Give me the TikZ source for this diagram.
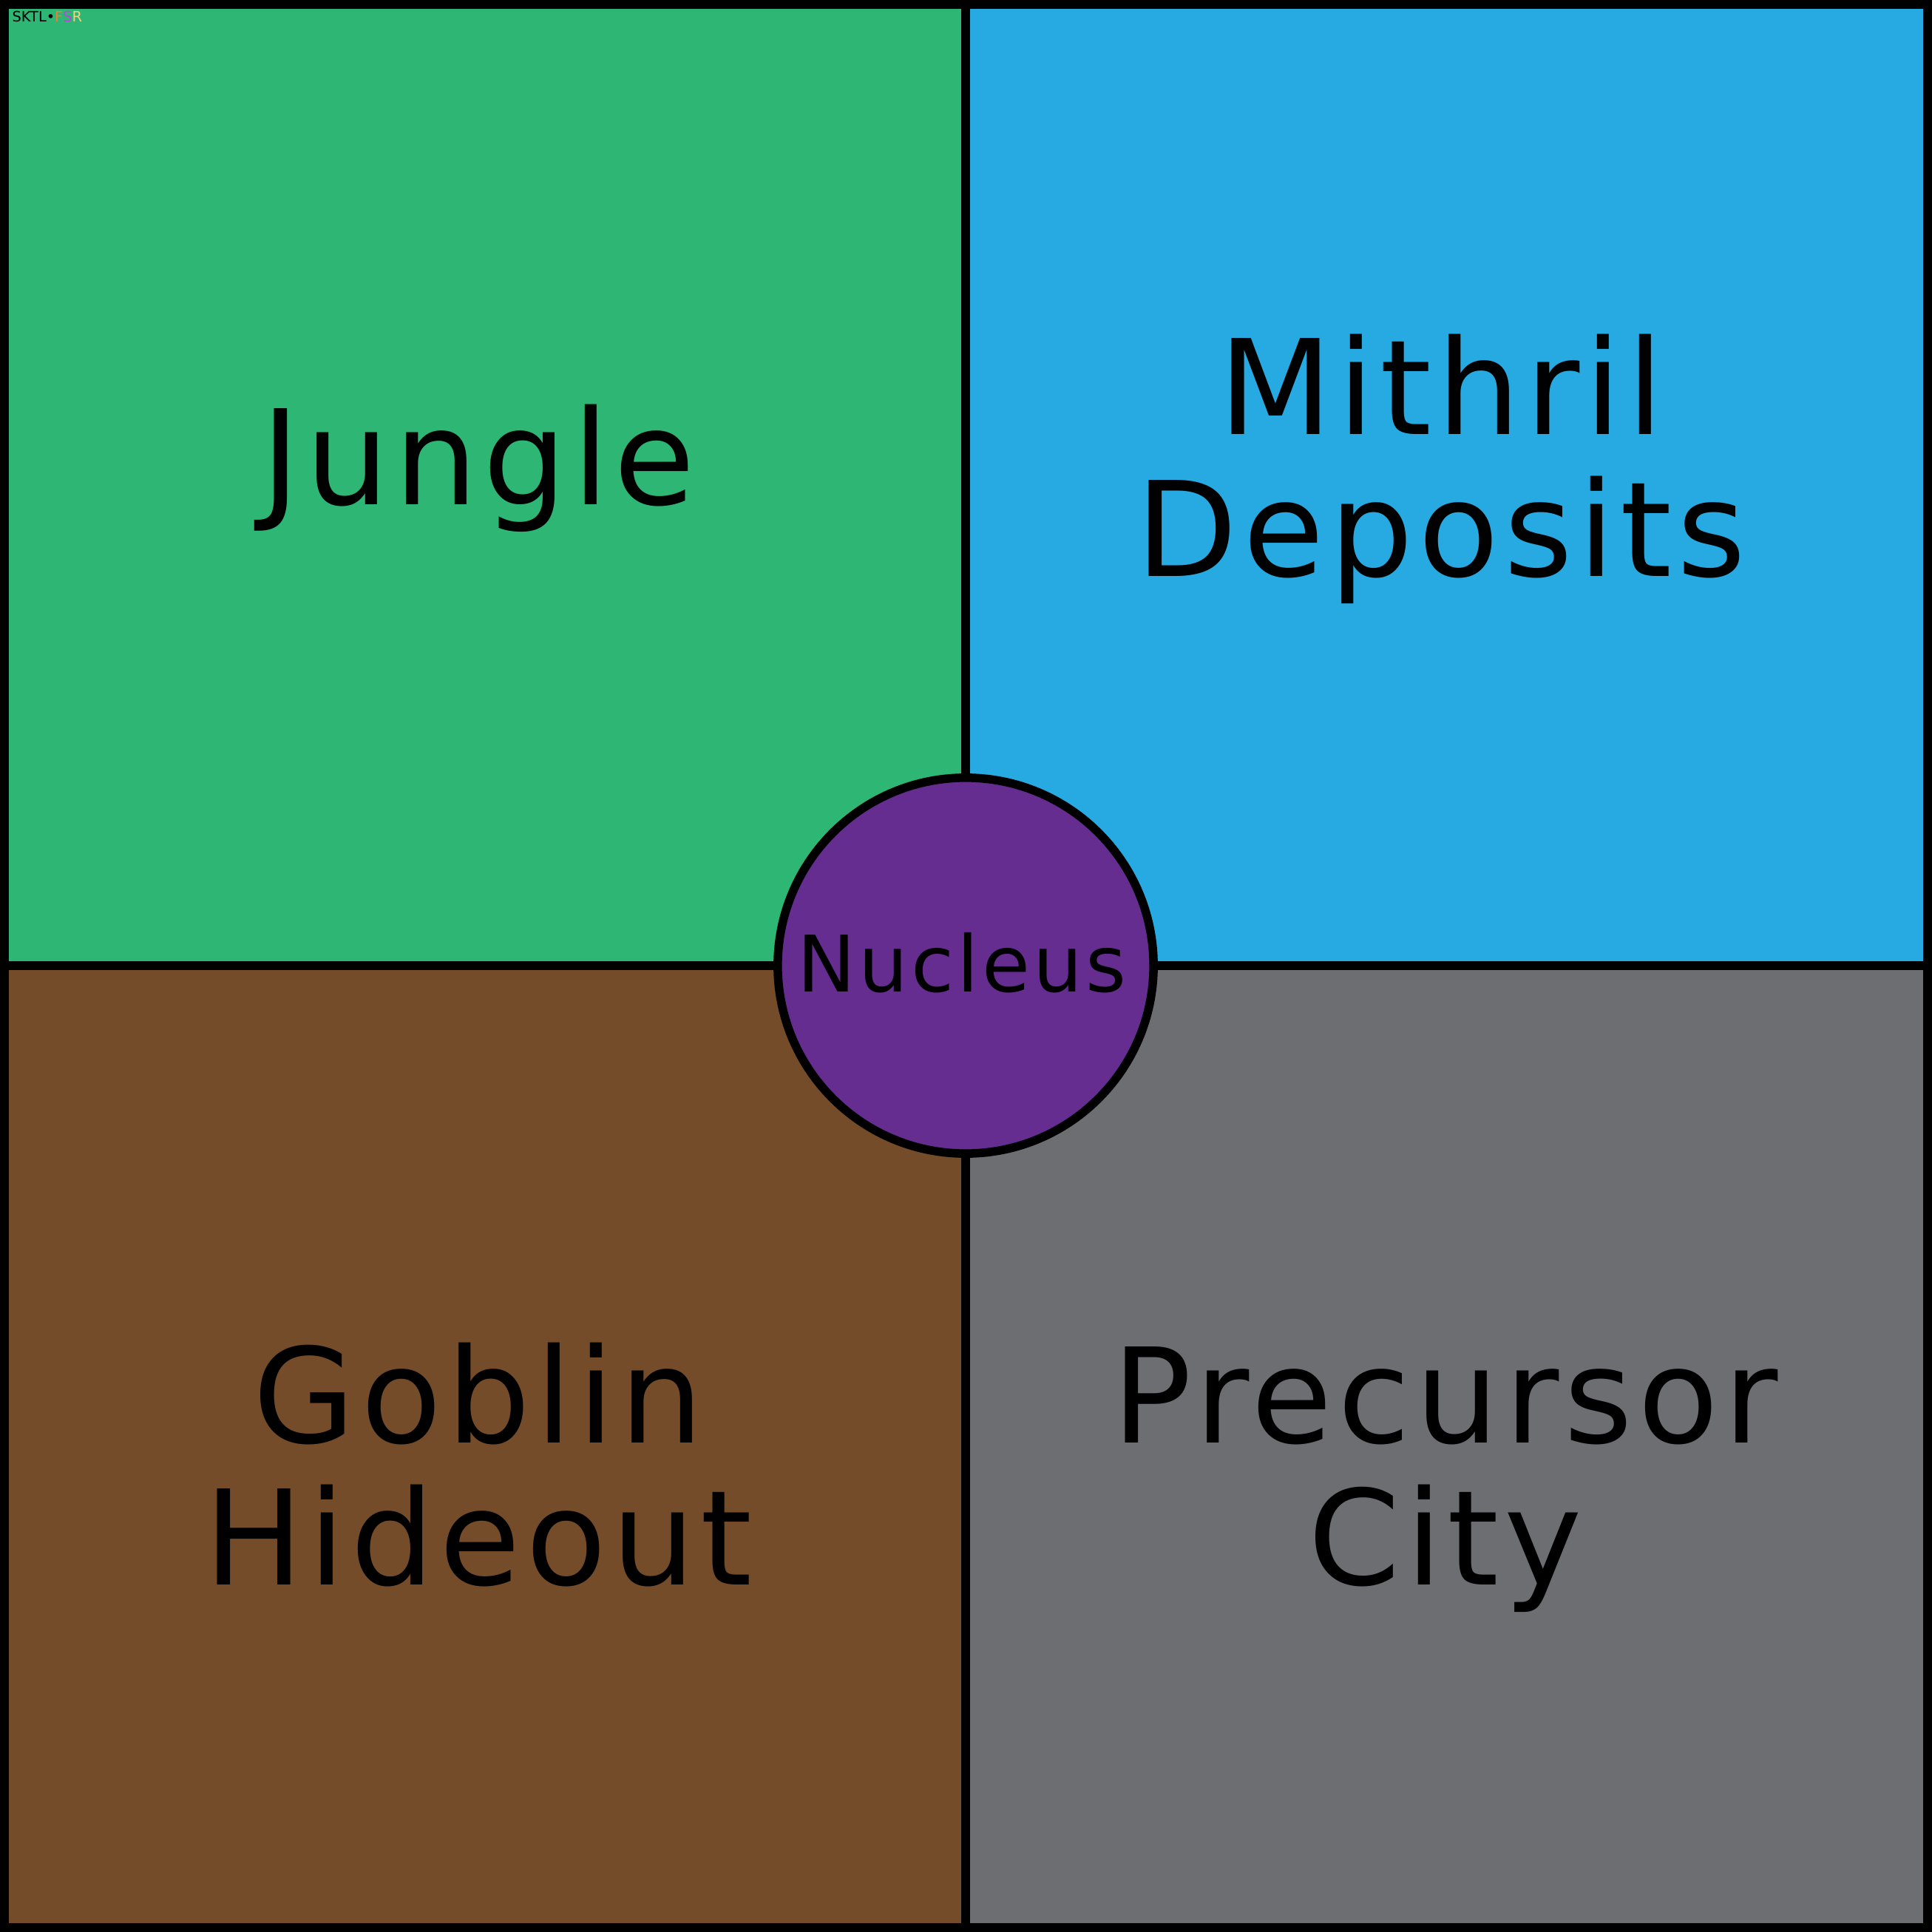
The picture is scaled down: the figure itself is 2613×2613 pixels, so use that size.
\documentclass[tikz,border=0pt]{standalone}
\usepackage{fontspec}
\setmainfont{DejaVu Sans}[LetterSpace=4]
\newfontfamily\kucukfont{DejaVu Sans}
\definecolor{ormanyesil}{RGB}{45,182,116}
\definecolor{mithrilmavi}{RGB}{39,170,225}
\definecolor{goblinkahve}{RGB}{117,76,41}
\definecolor{sehirgri}{RGB}{109,110,114}
\definecolor{cekirdekmor}{RGB}{101,45,144}
\definecolor{imzaturuncu}{RGB}{240,128,48}
\definecolor{imzamor}{RGB}{196,64,224}
\definecolor{imzasari}{RGB}{240,212,128}
\tikzset{
  bolgeyazi/.style={anchor=base, inner sep=0pt, align=center,
    font=\fontsize{50.7}{54.6}\selectfont},
  cekirdek/.style={circle, draw=black, fill=cekirdekmor, line width=0.115cm,
    minimum size=5.08cm, inner sep=0pt}
}
\begin{document}
\begin{tikzpicture}[x=0.01cm, y=-0.01cm]
    \useasboundingbox (0,0) rectangle (2613,2613);
    % Siyah zemin
    \fill[black] (0,0) rectangle (2613,2613);
    % Dört bölge
    \fill[ormanyesil] (12,12) rectangle (1300,1300);
    \fill[mithrilmavi] (1312,12) rectangle (2601,1300);
    \fill[goblinkahve] (12,1312) rectangle (1300,2601);
    \fill[sehirgri] (1312,1312) rectangle (2601,2601);
    % Bölge adları (taban çizgisi son satırda)
    \node[bolgeyazi] (jungle) at (647,683) {Jungle};
    \node[bolgeyazi] (mithril) at (1949,780) {Mithril\\Deposits};
    \node[bolgeyazi] (goblin) at (647,2143) {Goblin\\Hideout};
    \node[bolgeyazi] (precursor) at (1955,2143) {Precursor\\City};
    % Ortadaki çember
    \node[cekirdek] (nucleus) at (1306,1306) {};
    \node[anchor=base, inner sep=0pt, font=\fontsize{30}{32}\selectfont]
      (nucleuslabel) at (1301,1341) {Nucleus};
    % Köşedeki imza
    \node[anchor=base west, inner sep=0pt, font=\kucukfont\fontsize{5.5}{6}\selectfont]
      (imza) at (16,30) {SKTL\textbullet\textcolor{imzaturuncu}{F}\textcolor{imzamor}{S}\textcolor{imzasari}{R}};
\end{tikzpicture}
\end{document}
